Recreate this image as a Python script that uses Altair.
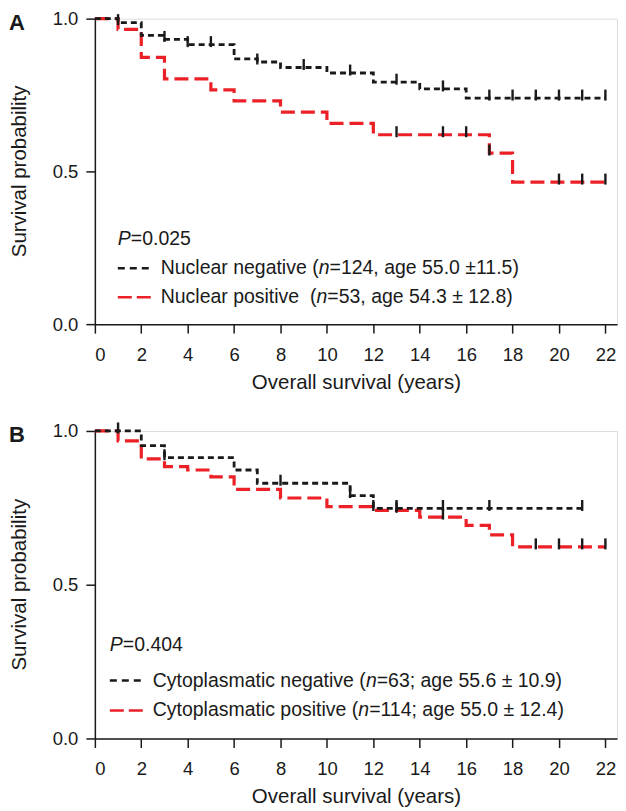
import altair as alt
import pandas as pd

# ---------------- data ----------------
# Panel A: nuclear staining
A_NEG_T = [0, 1, 2, 3, 4, 6, 7, 8, 10, 12, 14, 16, 22]
A_NEG_S = [1.0, 0.987, 0.945, 0.932, 0.915, 0.868, 0.858, 0.84, 0.822, 0.792, 0.77, 0.74, 0.74]
A_POS_T = [0, 1, 2, 3, 5, 6, 8, 10, 12, 17, 18, 22]
A_POS_S = [1.0, 0.965, 0.873, 0.803, 0.767, 0.731, 0.694, 0.657, 0.62, 0.56, 0.465, 0.465]
A_NEG_CENS = [1, 3, 4, 5, 7, 9, 11, 13, 15, 17, 18, 19, 20, 21, 22]
A_POS_CENS = [13, 15, 16, 17, 20, 21, 22]

# Panel B: cytoplasmatic staining
B_NEG_T = [0, 2, 3, 6, 7, 11, 12, 21]
B_NEG_S = [1.0, 0.952, 0.913, 0.873, 0.83, 0.79, 0.748, 0.748]
B_POS_T = [0, 1, 2, 3, 4, 5, 6, 8, 10, 12, 14, 16, 17, 18, 22]
B_POS_S = [1.0, 0.968, 0.909, 0.884, 0.873, 0.851, 0.81, 0.782, 0.754, 0.742, 0.72, 0.693, 0.662, 0.623, 0.623]
B_NEG_CENS = [1, 3, 8, 11, 12, 13, 15, 17, 21]
B_POS_CENS = [13, 15, 19, 20, 21, 22]

X_TICKS = list(range(0, 23, 2))
Y_TICKS = [0.0, 0.5, 1.0]

A_P = "=0.025"
A_ROW1 = [("Nuclear negative (", False), ("n", True), ("=124, age 55.0 \u00b111.5)", False)]
A_ROW2 = [("Nuclear positive \u00a0(", False), ("n", True), ("=53, age 54.3 \u00b1 12.8)", False)]
B_P = "=0.404"
B_ROW1 = [("Cytoplasmatic negative (", False), ("n", True), ("=63; age 55.6 \u00b1 10.9)", False)]
B_ROW2 = [("Cytoplasmatic positive (", False), ("n", True), ("=114; age 55.0 \u00b1 12.4)", False)]

# ---------------- styling ----------------
BLACK = "#1a1a1a"
RED = "#ec2127"
FONT = "Liberation Sans"
LEG_FS = 19.5
W = 523

# Arial/Liberation Sans advance widths (1/1000 em) for placing italic pieces
CW = {' ': 278, '\u00a0': 278, '(': 333, ')': 333, ',': 278, '.': 278, ';': 278, '=': 584,
      '\u00b1': 584, 'A': 667, 'C': 722, 'N': 722, 'P': 667,
      'a': 556, 'b': 556, 'c': 500, 'e': 556, 'g': 556, 'i': 222, 'l': 222, 'm': 833,
      'n': 556, 'o': 556, 'p': 556, 'r': 333, 's': 500, 't': 278, 'u': 556, 'v': 500, 'y': 500}
for d in "0123456789":
    CW[d] = 556


def text_w(s, fs):
    return sum(CW.get(c, 556) for c in s) * fs / 1000.0


X = alt.X("t:Q", title="Overall survival (years)",
          scale=alt.Scale(domain=[0, 22.5], nice=False),
          axis=alt.Axis(values=X_TICKS, tickSize=9, labelPadding=12, titlePadding=9,
                        labelFontSize=18.5, titleFontSize=20.5, grid=False,
                        domainWidth=1.5, tickWidth=1.5, domainColor=BLACK, tickColor=BLACK,
                        labelColor=BLACK, titleColor=BLACK, titleFontWeight="normal",
                        labelFont=FONT, titleFont=FONT))
Y = alt.Y("s:Q", title=None,
          scale=alt.Scale(domain=[0, 1], nice=False),
          axis=alt.Axis(values=Y_TICKS, format=".1f", tickSize=9, labelPadding=8,
                        labelFontSize=18.5, grid=False, domainWidth=1.5, tickWidth=1.5,
                        domainColor=BLACK, tickColor=BLACK, labelColor=BLACK, labelFont=FONT))


def curve(t, s, color, dash, width):
    df = pd.DataFrame({"t": t, "s": s})
    return alt.Chart(df).mark_line(interpolate="step-after", color=color, strokeDash=dash,
                                   strokeWidth=width, strokeCap="butt").encode(x=X, y=Y)


def censor(times, t, s):
    ys = []
    for tt in times:
        v = s[0]
        for ti, si in zip(t, s):
            if ti <= tt:
                v = si
        ys.append(v)
    df = pd.DataFrame({"t": times, "s": ys})
    return alt.Chart(df).mark_tick(orient="vertical", size=11, thickness=2.4, color=BLACK,
                                   yOffset=-3, opacity=1).encode(x=X, y=Y)


def txt(x, y, s, fs=LEG_FS, italic=False, bold=False, align="left", baseline="middle", angle=None):
    kw = dict(align=align, baseline=baseline, fontSize=fs, color=BLACK, font=FONT)
    if italic:
        kw["fontStyle"] = "italic"
    if bold:
        kw["fontWeight"] = "bold"
    if angle is not None:
        kw["angle"] = angle
    df = pd.DataFrame({"label": [s]})
    return alt.Chart(df).mark_text(**kw).encode(x=alt.value(x), y=alt.value(y), text="label:N")


def sample(x0, x1, y, color, dash):
    df = pd.DataFrame({"k": [0]})
    return alt.Chart(df).mark_rule(color=color, strokeDash=dash, strokeWidth=2.5,
                                   strokeCap="butt").encode(
        x=alt.value(x0), x2=alt.value(x1), y=alt.value(y))


def row(x, y, pieces):
    out = []
    for s, it in pieces:
        out.append(txt(x, y, s, italic=it))
        x += text_w(s, LEG_FS)
    return out


def panel(letter, h, neg_t, neg_s, pos_t, pos_s, neg_c, pos_c, ptxt, row1, row2, lx, ys):
    layers = [
        curve(pos_t, pos_s, RED, [14, 6], 3.2),
        curve(neg_t, neg_s, BLACK, [6, 4], 2.8),
        censor(pos_c, pos_t, pos_s),
        censor(neg_c, neg_t, neg_s),
        txt(-86, -6, letter, fs=22, bold=True, baseline="top"),
        txt(-75, h / 2, "Survival probability", fs=20.5, align="center", angle=270),
        txt(lx, ys[0], "P", italic=True),
        txt(lx + text_w("P", LEG_FS), ys[0], ptxt),
        sample(lx, lx + 33, ys[1], BLACK, [7, 5]),
        sample(lx, lx + 33, ys[2], RED, [14, 5]),
    ]
    layers += row(lx + 43, ys[1], row1)
    layers += row(lx + 43, ys[2], row2)
    return alt.layer(*layers).properties(width=W, height=h)


pa = panel("A", 306, A_NEG_T, A_NEG_S, A_POS_T, A_POS_S, A_NEG_CENS, A_POS_CENS,
           A_P, A_ROW1, A_ROW2, 23, [221, 250, 279])
pb = panel("B", 308, B_NEG_T, B_NEG_S, B_POS_T, B_POS_S, B_NEG_CENS, B_POS_CENS,
           B_P, B_ROW1, B_ROW2, 15, [214, 250, 280])

chart = alt.vconcat(pa, pb, spacing=27).properties(
    padding={"left": 0, "top": 0, "right": 0, "bottom": 0}
).configure_view(stroke=None).configure(font=FONT)

chart.save("out.html", embed_options={"renderer": "svg", "actions": False})
